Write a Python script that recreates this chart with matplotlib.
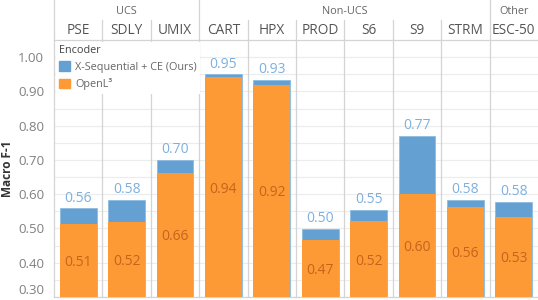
import matplotlib
matplotlib.use("Agg")
import matplotlib.pyplot as plt
from matplotlib.patches import Patch
from matplotlib.transforms import blended_transform_factory

# data
datasets = ["PSE", "SDLY", "UMIX", "CART", "HPX", "PROD", "S6", "S9", "STRM", "ESC-50"]
groups = ["UCS", "Non-UCS", "Other"]
group_sizes = [3, 6, 1]
xseq = [0.559, 0.584, 0.700, 0.950, 0.933, 0.498, 0.554, 0.770, 0.583, 0.577]
openl3 = [0.512, 0.518, 0.663, 0.941, 0.920, 0.466, 0.521, 0.601, 0.564, 0.534]
yticks = [0.30, 0.40, 0.50, 0.60, 0.70, 0.80, 0.90, 1.00]

BLUE = "#65A0D3"
ORANGE = "#FD9A35"
GRID = "#d4d4d4"
YMIN, YMAX = 0.30, 1.05

plt.rcParams["font.family"] = ["Open Sans", "DejaVu Sans"]

fig = plt.figure(figsize=(5.38, 3.0), dpi=100)
ax = fig.add_axes([54 / 538, 3 / 300, 484 / 538, 257 / 300])

x = list(range(len(datasets)))
ax.bar(x, [v - YMIN for v in xseq], bottom=YMIN, width=0.76, color=BLUE,
       edgecolor="#8dbbe2", linewidth=0.6, zorder=2)
ax.bar(x, [v - YMIN for v in openl3], bottom=YMIN, width=0.76, color=ORANGE,
       linewidth=0, zorder=3)

for i in x:
    ax.annotate(f"{xseq[i]:.2f}", (i, xseq[i]), xytext=(0, 4.8),
                textcoords="offset points", ha="center", va="baseline",
                fontsize=10, color="#7DB0E0", zorder=4)
    ax.text(i, (YMIN + openl3[i]) / 2, f"{openl3[i]:.2f}", ha="center",
            va="center_baseline", fontsize=10, color="#C4651C", zorder=4)

ax.set_xlim(-0.5, len(datasets) - 0.5)
ax.set_ylim(YMIN, YMAX)
ax.set_xticks([])
ax.set_yticks(yticks)
ax.set_yticklabels([f"{t:.2f}" for t in yticks])
ax.set_yticks([t + 0.05 for t in yticks[:-1]], minor=True)
ax.tick_params(axis="y", which="both", length=0, pad=7, labelsize=9.5,
               labelcolor="#808080")
ax.get_yticklabels()[0].set_va("bottom")
ax.grid(axis="y", which="both", color="#ececec", linewidth=0.8, zorder=0)
ax.set_axisbelow(True)
ax.set_ylabel("Macro F-1", fontsize=8.5, fontweight="bold", color="#333333")
ax.yaxis.set_label_coords(-40 / 484, 0.5)

for s in ["top", "right"]:
    ax.spines[s].set_visible(False)
for s in ["left", "bottom"]:
    ax.spines[s].set_color(GRID)
    ax.spines[s].set_linewidth(0.9)

# header: column labels, group labels and separators
tr = blended_transform_factory(ax.transData, ax.transAxes)
h_col = 1 + 10 / 257
h_grp = 1 + 29 / 257
top_col = 1 + 20 / 257
top_all = 1 + 40 / 257

for i, name in enumerate(datasets):
    ax.text(i, h_col, name, transform=tr, ha="center", va="center",
            fontsize=9.8, color="#555555", clip_on=False)

group_edges = []
start = 0
for g, n in zip(groups, group_sizes):
    ax.text(start + (n - 1) / 2, h_grp, g, transform=tr, ha="center",
            va="center", fontsize=7.8, color="#666666", clip_on=False)
    start += n
    group_edges.append(start)

for b in range(1, len(datasets)):
    top = top_all if b in group_edges else top_col
    ax.plot([b - 0.5, b - 0.5], [0, top], transform=tr, color=GRID,
            linewidth=0.9, clip_on=False, zorder=1)
ax.plot([-0.5, -0.5], [1, top_all], transform=tr, color=GRID,
        linewidth=0.9, clip_on=False)
ax.plot([-0.5, len(datasets) - 0.5], [1, 1], transform=tr, color=GRID,
        linewidth=0.9, clip_on=False)

leg = ax.legend(handles=[Patch(color=BLUE), Patch(color=ORANGE)],
                labels=["X-Sequential + CE (Ours)", "OpenL³"],
                title="Encoder", loc="upper left", bbox_to_anchor=(0.0, 1.0),
                fontsize=7.8, title_fontsize=7.8, frameon=True,
                facecolor="white", edgecolor="none", framealpha=1,
                handlelength=1.0, handleheight=1.0, handletextpad=0.5,
                labelspacing=0.5, borderpad=0.3, borderaxespad=0.15,
                alignment="left", fancybox=False)
leg.set_zorder(5)
for t in leg.get_texts():
    t.set_color("#666666")
leg.get_title().set_color("#444444")

fig.savefig("out.png", dpi=100)
